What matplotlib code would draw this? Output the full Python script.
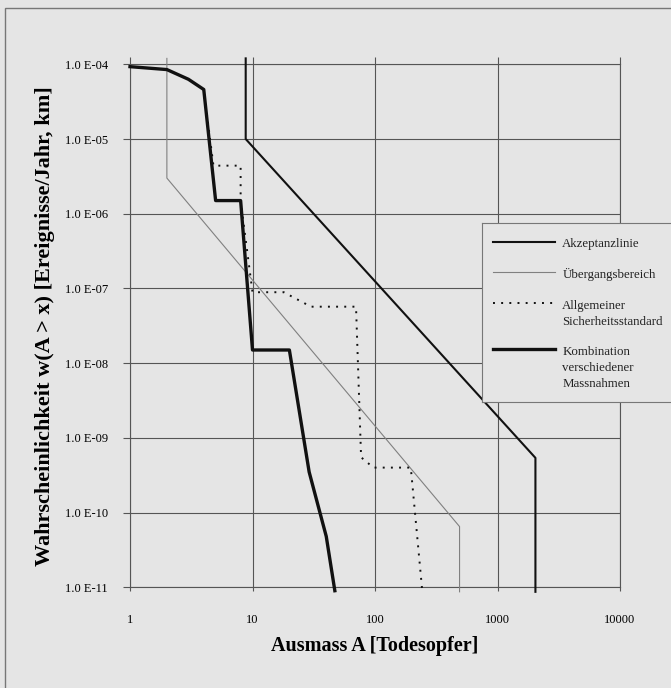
import numpy as np
import matplotlib
matplotlib.use("Agg")
import matplotlib.pyplot as plt
from matplotlib.patches import Rectangle
from matplotlib.lines import Line2D

plt.rcParams['font.family'] = ['Liberation Serif', 'DejaVu Serif']

# Daten
akzeptanz_x = [8.8, 8.8, 2040, 2040]
akzeptanz_y = [1.2e-4, 1e-5, 5.4e-10, 8.7e-12]

uebergang_x = [2, 2, 490, 490]
uebergang_y = [1.2e-4, 3e-6, 6.5e-11, 8.7e-12]

allgemein_x = [4, 4.8, 8, 8, 10, 18, 30, 70, 77, 97, 196, 243]
allgemein_y = [4.6e-5, 4.4e-6, 4.4e-6, 1.5e-6, 8.9e-8, 8.9e-8, 5.7e-8, 5.7e-8,
               5.5e-10, 4e-10, 4e-10, 9e-12]

kombi_x = [1, 2, 3, 4, 5, 8, 10, 20, 29, 40, 47]
kombi_y = [9.3e-5, 8.5e-5, 6.3e-5, 4.6e-5, 1.5e-6, 1.5e-6, 1.5e-8, 1.5e-8,
           3.5e-10, 4.8e-11, 9e-12]

xticks = [1, 10, 100, 1000, 10000]
xticklabels = ['1', '10', '100', '1000', '10000']
yticks = [1e-11, 1e-10, 1e-9, 1e-8, 1e-7, 1e-6, 1e-5, 1e-4]
yticklabels = ['1.0 E-11', '1.0 E-10', '1.0 E-09', '1.0 E-08',
               '1.0 E-07', '1.0 E-06', '1.0 E-05', '1.0 E-04']

legend_labels = ['Akzeptanzlinie', 'Übergangsbereich',
                 'Allgemeiner\nSicherheitsstandard',
                 'Kombination\nverschiedener\nMassnahmen']

bg = '#e5e5e5'
gridc = '#555555'

fig = plt.figure(figsize=(6.71, 6.88), dpi=100, facecolor=bg)
ax = fig.add_axes([130/671, 1-587.3/688, 490/671, 523/688], facecolor=bg)

ax.set_xscale('log')
ax.set_yscale('log')
ax.set_xlim(1, 10000)
ax.set_ylim(1e-11, 1e-4)

ax.plot(uebergang_x, uebergang_y, color='#808080', lw=0.8, clip_on=False, zorder=3)
ax.plot(akzeptanz_x, akzeptanz_y, color='#111111', lw=1.5, clip_on=False, zorder=4)
ax.plot(allgemein_x, allgemein_y, color='#111111', lw=1.4,
        linestyle=(0, (1, 3.2)), clip_on=False, zorder=4)
ax.plot(kombi_x, kombi_y, color='#111111', lw=2.4, clip_on=False, zorder=5)

# Achsen / Gitter
ax.xaxis.set_major_locator(plt.FixedLocator(xticks))
ax.yaxis.set_major_locator(plt.FixedLocator(yticks))
ax.xaxis.set_minor_locator(plt.NullLocator())
ax.yaxis.set_minor_locator(plt.NullLocator())
ax.set_xticklabels(xticklabels)
ax.set_yticklabels(yticklabels)
ax.grid(True, which='major', color=gridc, lw=0.8)
for s in ax.spines.values():
    s.set_color(gridc)
    s.set_linewidth(0.8)
ax.tick_params(axis='y', direction='out', length=5, width=0.8, color=gridc,
               pad=11, labelsize=9)
ax.tick_params(axis='x', direction='out', length=3, width=0.8, color=gridc,
               pad=16, labelsize=9, top=True)
for t in ax.xaxis.get_major_ticks():
    t.tick2line.set_markersize(5)

ax.set_xlabel('Ausmass A [Todesopfer]', fontsize=14.5, fontweight='bold')
ax.set_ylabel('Wahrscheinlichkeit w(A > x) [Ereignisse/Jahr, km]',
              fontsize=16, fontweight='bold')
ax.xaxis.label.set_va('center')
ax.yaxis.label.set_va('center')
ax.xaxis.set_label_coords(0.5, (587.3-646)/523)
ax.yaxis.set_label_coords((45-130)/490, 0.5)

# Legende
lax = fig.add_axes([482/671, 1-402/688, 198/671, 179/688], facecolor=bg)
lax.set_xlim(0, 1)
lax.set_ylim(0, 1)
lax.set_xticks([])
lax.set_yticks([])
for s in lax.spines.values():
    s.set_color('#777777')
    s.set_linewidth(0.8)
styles = [dict(color='#111111', lw=1.5),
          dict(color='#808080', lw=0.8),
          dict(color='#111111', lw=1.4, linestyle=(0, (1, 3.2))),
          dict(color='#111111', lw=2.4)]
handle_y = [0.894, 0.726, 0.551, 0.294]
text_y = [0.881, 0.715, 0.492, 0.19]
for lab, st, hy, ty in zip(legend_labels, styles, handle_y, text_y):
    lax.add_line(Line2D([0.054, 0.369], [hy, hy], **st))
    lax.text(0.4056, ty, lab, fontsize=9.3, va='center', ha='left',
             linespacing=1.4, color='#222222')

# Rahmen
fig.add_artist(Rectangle((5/671, -0.1), 1.2, 1 - 8/688 + 0.1,
                         transform=fig.transFigure, fill=False,
                         edgecolor='#777777', lw=1.0))

fig.savefig('out.png', dpi=100, facecolor=bg)
